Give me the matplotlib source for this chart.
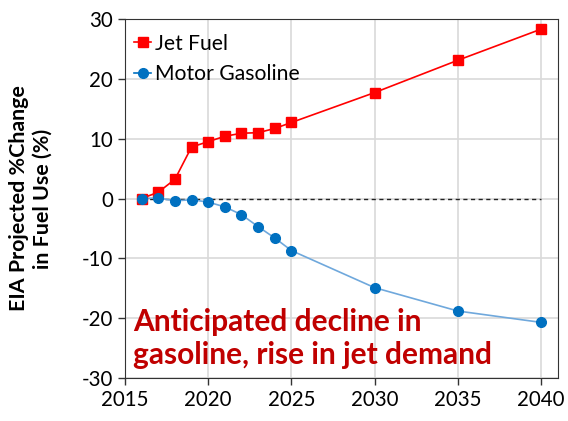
import matplotlib.pyplot as plt
import numpy as np

plt.rcParams['font.family'] = ['Lato', 'DejaVu Sans']
plt.rcParams['axes.unicode_minus'] = False

years = [2016, 2017, 2018, 2019, 2020, 2021, 2022, 2023, 2024, 2025, 2030, 2035, 2040]
jet_fuel = [0.0, 1.05, 3.2, 8.6, 9.5, 10.4, 10.9, 11.0, 11.7, 12.7, 17.7, 23.1, 28.3]
gasoline = [0.0, 0.1, -0.4, -0.2, -0.6, -1.4, -2.7, -4.7, -6.6, -8.7, -14.9, -18.8, -20.7]
xticks = [2015, 2020, 2025, 2030, 2035, 2040]
yticks = [-30, -20, -10, 0, 10, 20, 30]

fig = plt.figure(figsize=(5.68, 4.21), dpi=100)
ax = fig.add_axes([0.22, 0.102, 0.762, 0.853])

ax.grid(True, color='#d9d9d9', linewidth=1.2, zorder=0)
ax.plot([years[0], years[-1]], [0, 0], '--', color='#222222', linewidth=1,
        dashes=(3, 2.5), zorder=2)

ax.plot(years, jet_fuel, '-s', color='#ff0000', markersize=7, linewidth=1.2,
        label='Jet Fuel', zorder=4)
ax.plot(years, gasoline, '-', color='#6fa8dc', linewidth=1.2, zorder=3)
ax.plot(years, gasoline, 'o', color='#0070c0', markersize=7, zorder=4)
ax.plot([], [], '-o', color='#0070c0', markersize=7, linewidth=1.2,
        markeredgecolor='#0070c0', label='Motor Gasoline')

ax.set_xlim(2015, 2041)
ax.set_ylim(-30, 30)
ax.set_xticks(xticks)
ax.set_yticks(yticks)
ax.tick_params(labelsize=14.8, direction='out', length=5, width=1, color='#333333')
for s in ax.spines.values():
    s.set_color('#333333')

ax.set_ylabel('EIA Projected %Change\nin Fuel Use (%)', fontsize=15.4,
              fontweight='bold', linespacing=1.25)
ax.yaxis.set_label_coords(-0.166, 0.5)

ax.legend(loc='upper left', bbox_to_anchor=(0.0, 0.985), frameon=False,
          fontsize=15.2, handlelength=0.8, handletextpad=0.15,
          borderaxespad=0.2, labelspacing=0.5, borderpad=0.25)

ax.text(2015.5, -18.3, 'Anticipated decline in\ngasoline, rise in jet demand',
        color='#c00000', fontsize=21.5, fontweight='bold', va='top',
        linespacing=1.2)

fig.savefig('out.png', dpi=100)
